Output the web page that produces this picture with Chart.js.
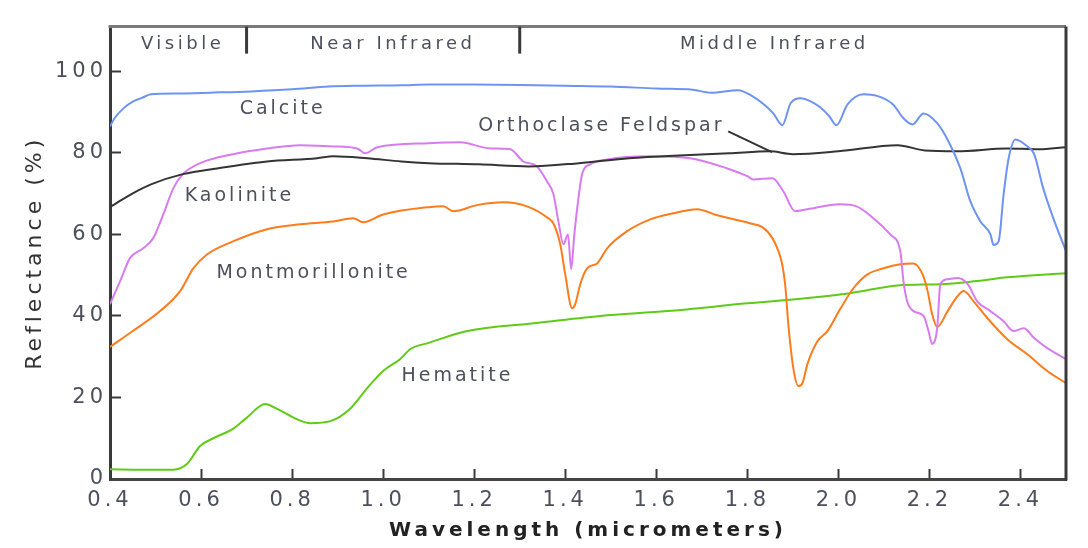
<!DOCTYPE html>
<html>
<head>
<meta charset="utf-8">
<title>Spectral reflectance of minerals</title>
<script src="https://cdn.jsdelivr.net/npm/chart.js@4.4.0/dist/chart.umd.min.js"></script>
<style>
  html, body { margin: 0; padding: 0; background: #fff; }
  #chart { display: block; }
</style>
</head>
<body>
<canvas id="chart" width="1088" height="548"></canvas>
<script>
"use strict";

// wavelength (micrometers) and reflectance (%)
const calciteWl = [0.40, 0.41, 0.43, 0.45, 0.47, 0.49, 0.55, 0.62, 0.71, 0.80, 0.88, 0.95, 1.04, 1.10, 1.20, 1.30, 1.40, 1.50, 1.60, 1.68, 1.72, 1.78, 1.81, 1.84, 1.857, 1.877, 1.895, 1.917, 1.94, 1.96, 1.98, 1.996, 2.02, 2.055, 2.085, 2.12, 2.143, 2.163, 2.187, 2.217, 2.242, 2.268, 2.29, 2.312, 2.334, 2.341, 2.352, 2.363, 2.374, 2.389, 2.415, 2.43, 2.45, 2.472, 2.50];
const calciteRef = [86.5, 88.5, 91.0, 92.6, 93.5, 94.4, 94.6, 94.8, 95.1, 95.6, 96.3, 96.5, 96.6, 96.8, 96.8, 96.7, 96.5, 96.3, 95.8, 95.5, 94.8, 95.4, 94.0, 91.6, 89.7, 86.8, 92.2, 93.4, 92.6, 91.2, 89.0, 86.8, 91.9, 94.4, 94.0, 91.9, 88.5, 87.0, 89.7, 87.3, 82.8, 76.2, 68.1, 63.2, 60.0, 57.4, 58.3, 69.9, 78.7, 83.3, 81.6, 79.7, 71.3, 64.0, 55.9];

const feldsparWl = [0.40, 0.41, 0.45, 0.49, 0.56, 0.635, 0.745, 0.855, 0.89, 0.965, 1.04, 1.10, 1.21, 1.32, 1.43, 1.54, 1.65, 1.76, 1.85, 1.90, 2.00, 2.13, 2.19, 2.26, 2.37, 2.44, 2.50];
const feldsparRef = [66.7, 67.4, 70.1, 72.3, 74.8, 76.2, 77.9, 78.7, 79.2, 78.7, 77.9, 77.5, 77.2, 76.7, 77.5, 78.7, 79.4, 79.9, 80.4, 79.7, 80.4, 81.9, 80.6, 80.4, 81.1, 80.9, 81.4];

const kaoliniteWl = [0.40, 0.422, 0.444, 0.473, 0.495, 0.517, 0.539, 0.56, 0.598, 0.67, 0.745, 0.818, 0.89, 0.943, 0.96, 0.987, 1.10, 1.169, 1.235, 1.279, 1.308, 1.338, 1.36, 1.374, 1.385, 1.396, 1.406, 1.413, 1.42, 1.429, 1.437, 1.455, 1.492, 1.587, 1.675, 1.756, 1.80, 1.813, 1.855, 1.879, 1.905, 1.932, 2.004, 2.04, 2.077, 2.114, 2.136, 2.143, 2.151, 2.165, 2.187, 2.198, 2.206, 2.217, 2.224, 2.24, 2.262, 2.284, 2.305, 2.334, 2.363, 2.385, 2.407, 2.43, 2.459, 2.50];
const kaoliniteRef = [42.9, 48.5, 54.2, 56.6, 59.1, 64.9, 71.3, 74.8, 77.5, 79.7, 81.1, 81.9, 81.6, 81.1, 79.9, 81.4, 82.4, 82.6, 81.1, 80.9, 77.9, 76.7, 73.0, 69.9, 63.2, 57.6, 60.0, 51.5, 60.0, 68.9, 74.8, 77.2, 78.4, 79.2, 78.7, 76.2, 74.3, 73.5, 73.8, 70.6, 65.7, 66.2, 67.4, 66.9, 64.0, 60.0, 55.9, 48.5, 43.6, 41.2, 40.0, 36.3, 33.1, 37.0, 47.8, 49.0, 49.3, 47.8, 43.6, 41.2, 38.7, 36.3, 37.0, 34.6, 32.1, 29.4];

const montmorilloniteWl = [0.40, 0.45, 0.51, 0.554, 0.583, 0.613, 0.67, 0.745, 0.818, 0.89, 0.934, 0.956, 1.00, 1.10, 1.132, 1.154, 1.206, 1.264, 1.316, 1.36, 1.374, 1.389, 1.40, 1.415, 1.422, 1.433, 1.448, 1.47, 1.492, 1.536, 1.587, 1.637, 1.69, 1.734, 1.807, 1.833, 1.855, 1.868, 1.876, 1.883, 1.89, 1.901, 1.912, 1.921, 1.932, 1.954, 1.976, 2.004, 2.033, 2.064, 2.099, 2.136, 2.165, 2.185, 2.196, 2.206, 2.217, 2.24, 2.262, 2.275, 2.297, 2.327, 2.371, 2.415, 2.459, 2.50];
const montmorilloniteRef = [32.4, 36.3, 41.2, 46.1, 51.7, 55.1, 58.3, 61.3, 62.5, 63.2, 64.0, 63.0, 64.9, 66.7, 66.9, 65.7, 67.2, 67.9, 66.9, 64.2, 62.7, 57.6, 50.2, 41.9, 42.9, 47.8, 51.7, 52.9, 56.6, 60.8, 63.7, 65.2, 66.2, 64.7, 62.7, 61.8, 59.1, 56.0, 53.0, 47.8, 38.0, 27.2, 22.8, 23.5, 28.2, 33.8, 36.3, 41.7, 46.8, 50.2, 51.7, 52.7, 52.9, 50.2, 46.1, 40.4, 37.3, 41.2, 44.9, 46.1, 43.6, 39.5, 34.3, 30.6, 26.5, 23.5];

const hematiteWl = [0.40, 0.47, 0.539, 0.569, 0.598, 0.627, 0.67, 0.70, 0.741, 0.767, 0.81, 0.84, 0.884, 0.927, 0.965, 1.00, 1.037, 1.06, 1.10, 1.185, 1.33, 1.477, 1.624, 1.80, 1.932, 2.026, 2.13, 2.224, 2.297, 2.371, 2.50];
const hematiteRef = [2.4, 2.3, 2.3, 3.7, 8.1, 10.0, 12.3, 15.0, 18.4, 17.2, 14.7, 13.7, 14.2, 17.2, 22.3, 26.5, 29.4, 31.9, 33.4, 36.3, 38.2, 40.0, 41.2, 43.1, 44.4, 45.6, 47.5, 47.8, 48.5, 49.5, 50.5];

const xTicks = [0.4, 0.6, 0.8, 1.0, 1.2, 1.4, 1.6, 1.8, 2.0, 2.2, 2.4];
const yTicks = [0, 20, 40, 60, 80, 100];

// spectral regions along the top of the plot
const bandNames = ["Visible", "Near Infrared", "Middle Infrared"];
const bandEdges = [0.7, 1.3];

const toPoints = (wl, ref) => wl.map((x, i) => ({ x, y: ref[i] }));

const series = [
  { label: "Calcite", wl: calciteWl, ref: calciteRef, color: "#6e93f3" },
  { label: "Orthoclase Feldspar", wl: feldsparWl, ref: feldsparRef, color: "#343434" },
  { label: "Kaolinite", wl: kaoliniteWl, ref: kaoliniteRef, color: "#d97bf0" },
  { label: "Montmorillonite", wl: montmorilloniteWl, ref: montmorilloniteRef, color: "#ff7c1c" },
  { label: "Hematite", wl: hematiteWl, ref: hematiteRef, color: "#5fcb17" },
];

// where each curve name is written, in axis units
const curveLabels = [
  { text: "Calcite", x: 0.776, y: 90.7 },
  { text: "Orthoclase Feldspar", x: 1.476, y: 86.6 },
  { text: "Kaolinite", x: 0.681, y: 69.4 },
  { text: "Montmorillonite", x: 0.844, y: 50.6 },
  { text: "Hematite", x: 1.16, y: 25.2 },
];
const bandLabelX = [0.555, 1.017, 1.855];

const textColor = "#4b505c";
const axisColor = "#3a3a3a";

const framePlugin = {
  id: "frame",
  beforeDraw: (chart) => {
    chart.ctx.letterSpacing = "4px";
  },
  afterDraw: (chart) => {
    const { ctx, chartArea } = chart;
    const xs = chart.scales.x;
    const ys = chart.scales.y;
    ctx.save();

    // top and right edges of the box
    ctx.lineWidth = 3;
    ctx.strokeStyle = "#7a7a7a";
    ctx.beginPath();
    ctx.moveTo(chartArea.left - 1.5, chartArea.top);
    ctx.lineTo(chartArea.right, chartArea.top);
    ctx.stroke();
    ctx.strokeStyle = axisColor;
    ctx.beginPath();
    ctx.moveTo(chartArea.right, chartArea.top);
    ctx.lineTo(chartArea.right, chartArea.bottom + 1.5);
    ctx.stroke();

    // region dividers
    bandEdges.forEach((edge) => {
      const px = xs.getPixelForValue(edge);
      ctx.beginPath();
      ctx.moveTo(px, chartArea.top);
      ctx.lineTo(px, chartArea.top + 27);
      ctx.stroke();
    });

    ctx.fillStyle = textColor;
    ctx.textAlign = "center";
    ctx.textBaseline = "middle";
    ctx.letterSpacing = "3.5px";
    ctx.font = "18px 'DejaVu Sans'";
    bandNames.forEach((name, i) => {
      ctx.fillText(name, xs.getPixelForValue(bandLabelX[i]) + 2, chartArea.top + 18);
    });

    ctx.letterSpacing = "3px";
    ctx.font = "19px 'DejaVu Sans'";
    curveLabels.forEach(({ text, x, y }) => {
      ctx.fillText(text, xs.getPixelForValue(x) + 1.5, ys.getPixelForValue(y));
    });

    // leader from the feldspar label to its curve
    ctx.strokeStyle = "#333";
    ctx.lineWidth = 2;
    ctx.beginPath();
    ctx.moveTo(xs.getPixelForValue(1.758), ys.getPixelForValue(85.3));
    ctx.lineTo(xs.getPixelForValue(1.854), ys.getPixelForValue(80.2));
    ctx.stroke();

    ctx.restore();
  },
};

const ctx = document.getElementById("chart");

new Chart(ctx, {
  type: "line",
  data: {
    datasets: series.map(({ label, wl, ref, color }) => ({
      label,
      data: toPoints(wl, ref),
      borderColor: color,
      borderWidth: 2,
      pointRadius: 0,
      cubicInterpolationMode: "monotone",
      fill: false,
    })),
  },
  options: {
    responsive: false,
    animation: false,
    devicePixelRatio: 1,
    layout: { padding: { top: 25, right: 22, left: 0, bottom: 0 } },
    plugins: {
      legend: { display: false },
      tooltip: { enabled: false },
    },
    scales: {
      x: {
        type: "linear",
        min: 0.4,
        max: 2.5,
        afterFit: (scale) => {
          scale.height = 69;
        },
        afterBuildTicks: (scale) => {
          scale.ticks = xTicks.map((value) => ({ value }));
        },
        border: { color: "#444", width: 3 },
        grid: {
          drawOnChartArea: false,
          tickLength: -10,
          tickWidth: 2,
          color: axisColor,
        },
        ticks: {
          padding: 19,
          maxRotation: 0,
          autoSkip: false,
          color: textColor,
          font: { family: "DejaVu Sans", size: 21 },
          callback: (value) => Number(value).toFixed(1),
        },
        title: {
          display: true,
          text: "Wavelength (micrometers)",
          color: "#222",
          font: { family: "DejaVu Sans", size: 20, weight: "bold" },
          padding: { top: 0, bottom: 5 },
        },
      },
      y: {
        min: 0,
        max: 111,
        afterFit: (scale) => {
          scale.width = 110;
        },
        afterBuildTicks: (scale) => {
          scale.ticks = yTicks.map((value) => ({ value }));
        },
        border: { color: axisColor, width: 3 },
        grid: {
          drawOnChartArea: false,
          tickLength: -11,
          tickWidth: 2,
          color: axisColor,
        },
        ticks: {
          padding: 14,
          color: textColor,
          font: { family: "DejaVu Sans", size: 21 },
        },
        title: {
          display: true,
          text: "Reflectance (%)",
          color: "#333",
          font: { family: "DejaVu Sans", size: 22 },
          padding: { top: 22, bottom: 0 },
        },
      },
    },
  },
  plugins: [framePlugin],
});
</script>
</body>
</html>
